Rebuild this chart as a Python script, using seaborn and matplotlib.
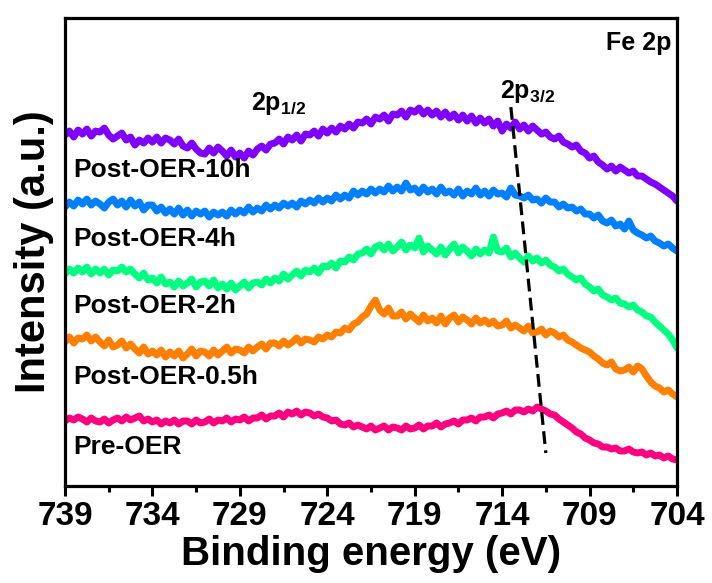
import numpy as np
import pandas as pd
import matplotlib
matplotlib.use("Agg")
import matplotlib.pyplot as plt
import seaborn as sns

# binding energy grid, 739 -> 704 eV in 0.25 eV steps (141 points)
energia = np.linspace(739, 704, 141)

# intensidades (u.a.), ja com o deslocamento vertical de cada curva
# (4 valores por eV: E, E-0.25, E-0.5, E-0.75)
post_10h = [365, 369, 363, 370, 366, 371, 364, 369, 368, 372, 365, 361, 364, 367, 360, 363,
            355, 360, 357, 362, 358, 363, 357, 362, 360, 356, 361, 354, 352, 357, 351, 347,
            346, 352, 347, 353, 349, 344, 350, 343, 347, 342, 349, 345, 351, 354, 350, 356,
            357, 361, 356, 363, 360, 365, 359, 366, 365, 369, 364, 371, 367, 372, 368, 374,
            371, 376, 372, 378, 377, 381, 376, 383, 381, 385, 379, 386, 385, 389, 383, 390,
            388, 392, 386, 390, 385, 389, 383, 388, 382, 386, 380, 385, 379, 384, 377, 382,
            377, 381, 374, 379, 369, 376, 372, 378, 371, 375, 369, 374, 370, 366, 368, 363,
            361, 364, 358, 356, 353, 355, 349, 347, 342, 344, 338, 335, 331, 334, 329, 333,
            330, 327, 329, 324, 324, 321, 318, 316, 313, 310, 307, 304, 299]
post_4h = [293, 298, 294, 300, 296, 301, 295, 299, 296, 292, 298, 301, 295, 299, 293, 300,
           294, 298, 290, 295, 295, 289, 293, 287, 291, 286, 292, 285, 290, 284, 289, 286,
           289, 283, 288, 285, 288, 284, 290, 286, 290, 287, 293, 288, 292, 289, 295, 291,
           295, 292, 297, 294, 297, 293, 299, 296, 300, 297, 302, 298, 302, 299, 305, 301,
           305, 302, 309, 305, 309, 306, 311, 307, 311, 308, 314, 309, 313, 309, 317, 310,
           312, 307, 313, 308, 311, 306, 313, 307, 309, 305, 311, 304, 309, 306, 312, 305,
           309, 304, 310, 306, 307, 303, 312, 305, 304, 302, 305, 300, 301, 297, 302, 298,
           298, 293, 296, 292, 293, 289, 291, 286, 286, 282, 285, 279, 277, 280, 274, 276,
           271, 279, 270, 267, 265, 262, 264, 259, 257, 254, 256, 252, 249]
post_2h = [226, 231, 227, 232, 228, 233, 226, 231, 227, 231, 225, 230, 229, 233, 228, 231,
           226, 222, 227, 220, 222, 217, 223, 216, 218, 213, 219, 214, 217, 221, 213, 218,
           219, 214, 220, 212, 216, 211, 217, 210, 214, 218, 212, 217, 218, 215, 221, 217,
           222, 219, 226, 221, 225, 229, 224, 230, 228, 232, 227, 234, 233, 237, 232, 239,
           238, 243, 240, 246, 247, 251, 246, 253, 255, 250, 256, 249, 253, 258, 250, 255,
           252, 262, 248, 254, 250, 246, 253, 245, 251, 256, 247, 253, 249, 244, 251, 246,
           250, 247, 263, 249, 248, 252, 243, 247, 242, 238, 244, 239, 242, 237, 240, 235,
           233, 229, 231, 226, 223, 220, 222, 216, 213, 209, 211, 205, 203, 200, 202, 197,
           196, 193, 195, 190, 188, 184, 183, 178, 174, 170, 166, 160, 152]
post_05h = [158, 163, 157, 162, 161, 165, 159, 163, 158, 154, 160, 153, 155, 159, 152, 156,
            151, 147, 153, 146, 149, 145, 150, 143, 148, 144, 149, 142, 146, 151, 144, 149,
            148, 144, 150, 145, 149, 153, 147, 151, 150, 147, 153, 149, 153, 156, 151, 157,
            157, 154, 159, 155, 158, 162, 157, 161, 160, 158, 163, 161, 165, 163, 168, 167,
            172, 170, 176, 178, 183, 186, 194, 200, 190, 186, 192, 184, 184, 188, 181, 186,
            182, 178, 185, 179, 182, 177, 184, 176, 182, 185, 178, 183, 180, 176, 182, 177,
            180, 176, 179, 174, 175, 179, 172, 175, 172, 169, 174, 167, 168, 171, 165, 169,
            167, 163, 165, 160, 158, 155, 152, 150, 148, 144, 141, 137, 135, 138, 131, 129,
            130, 133, 128, 134, 131, 124, 118, 114, 112, 108, 110, 106, 103]
pre_oer = [79, 82, 80, 83, 81, 78, 82, 79, 78, 81, 77, 80, 82, 79, 83, 80,
           82, 84, 79, 81, 78, 80, 76, 79, 77, 80, 76, 79, 79, 76, 80, 77,
           78, 81, 77, 80, 79, 82, 78, 81, 80, 83, 79, 82, 82, 85, 81, 84,
           84, 87, 83, 88, 86, 89, 85, 88, 87, 84, 86, 83, 82, 79, 80, 76,
           75, 77, 73, 75, 73, 71, 74, 70, 72, 74, 70, 73, 72, 70, 74, 71,
           72, 75, 71, 74, 74, 77, 73, 76, 77, 79, 76, 80, 80, 82, 79, 83,
           83, 85, 82, 86, 87, 89, 86, 90, 90, 88, 91, 89, 93, 91, 89, 86,
           85, 81, 78, 75, 72, 68, 66, 62, 60, 57, 56, 53, 53, 51, 52, 49,
           49, 51, 48, 47, 48, 45, 47, 44, 45, 42, 44, 41, 40]

amostras = ['Post-OER-10h', 'Post-OER-4h', 'Post-OER-2h', 'Post-OER-0.5h', 'Pre-OER']
cores = ['#8000FF', '#0080FF', '#00FF80', '#FF8000', '#FF0080']
label_y = [330, 261, 194, 123, 53]

# guia tracejado do pico 2p3/2
guia_e = [713.5, 711.5]
guia_i = [393, 47]

df = pd.concat([
    pd.DataFrame({'energia': energia, 'intensidade': vals, 'amostra': nome})
    for nome, vals in zip(amostras, [post_10h, post_4h, post_2h, post_05h, pre_oer])
])

sns.set_style('ticks')
plt.rcParams['font.family'] = ['Liberation Sans', 'DejaVu Sans']
plt.rcParams['font.weight'] = 'bold'
plt.rcParams['text.color'] = 'black'
plt.rcParams['axes.labelcolor'] = 'black'
plt.rcParams['axes.edgecolor'] = 'black'
plt.rcParams['xtick.color'] = 'black'
plt.rcParams['mathtext.fontset'] = 'custom'
plt.rcParams['mathtext.bf'] = 'Liberation Sans:bold'
plt.rcParams['mathtext.rm'] = 'Liberation Sans:bold'

fig = plt.figure(figsize=(7.12, 5.83), dpi=100)
ax = fig.add_axes([0.0913, 0.1664, 0.8595, 0.8026])

sns.lineplot(data=df, x='energia', y='intensidade', hue='amostra', hue_order=amostras,
             palette=cores, linewidth=5.0, legend=False, ax=ax)
ax.plot(guia_e, guia_i, color='black', linewidth=2.3, linestyle=(0, (4, 2)))

for nome, yy in zip(amostras, label_y):
    ax.text(738.5, yy, nome, fontsize=19, fontweight='bold', ha='left', va='center')

ax.text(728.35, 390, r'2p$_{\mathbf{1/2}}$', fontsize=18, fontweight='bold', ha='left', va='baseline')
ax.text(714.1, 402, r'2p$_{\mathbf{3/2}}$', fontsize=18, fontweight='bold', ha='left', va='baseline')
ax.text(704.3, 450, 'Fe 2p', fontsize=18, fontweight='bold', ha='right', va='baseline')

ax.set_xlim(739, 704)
ax.set_ylim(14, 482)
ax.set_xticks([739, 734, 729, 724, 719, 714, 709, 704])
ax.set_xticks(np.arange(736.5, 704, -5), minor=True)
ax.set_yticks([])
ax.tick_params(axis='x', which='major', direction='out', length=7, width=2.2, labelsize=24, pad=4)
ax.tick_params(axis='x', which='minor', direction='out', length=4, width=2.2)
for lab in ax.get_xticklabels():
    lab.set_fontweight('bold')
for sp in ax.spines.values():
    sp.set_linewidth(2.3)

ax.set_xlabel('Binding energy (eV)', fontsize=29, fontweight='bold', labelpad=2)
ax.set_ylabel('Intensity (a.u.)', fontsize=30, fontweight='bold', labelpad=8)

plt.savefig('out.png', dpi=100)
plt.close(fig)
